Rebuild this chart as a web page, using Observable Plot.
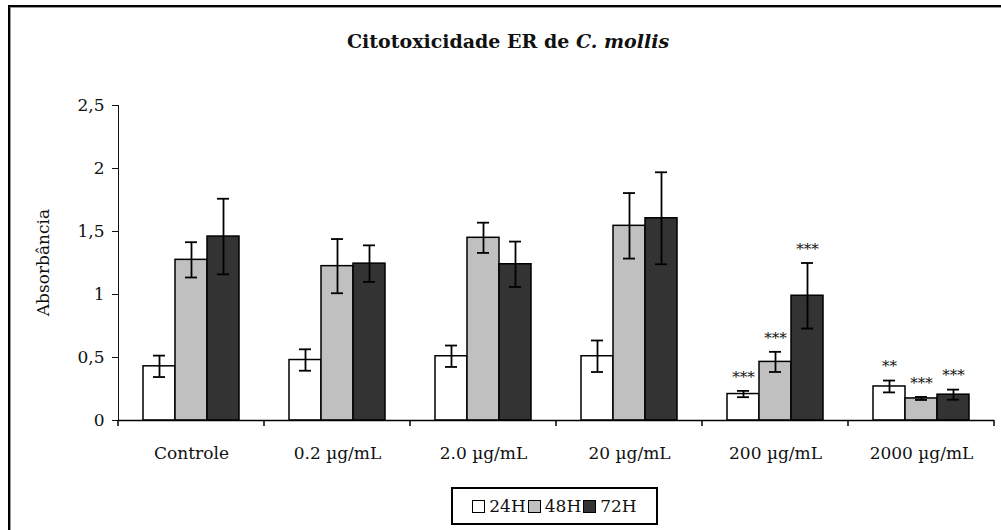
<!DOCTYPE html>
<html><head><meta charset="utf-8">
<script src="https://cdn.jsdelivr.net/npm/d3@7"></script>
<script src="https://cdn.jsdelivr.net/npm/@observablehq/plot@0.6"></script>
<style>
html,body{margin:0;padding:0;background:#fff;overflow:hidden;width:1001px;height:530px;}
#frame{position:absolute;left:8px;top:5px;width:1100px;height:600px;border-left:2px solid #000;border-top:2px solid #000;box-shadow:inset 1px 1px 0 #999;}
#title{position:absolute;left:158px;width:700px;top:30px;text-align:center;font:bold 19px "DejaVu Serif";color:#111;}
#chart{position:absolute;left:0;top:70px;}
#legend{position:absolute;left:451px;top:487px;width:203px;height:34px;border:2px solid #000;display:flex;align-items:center;justify-content:center;font:17px "DejaVu Serif";color:#111;}
#legend .sw{display:inline-block;width:11px;height:11px;border:1.5px solid #000;margin-right:4px;}
#legend .it{display:flex;align-items:center;margin:0 1px;}
</style></head><body>
<div id="frame"></div>
<div id="title">Citotoxicidade ER de <i>C. mollis</i></div>
<div id="chart"></div>
<div id="legend"></div>
<script>
const categories = ["Controle", "0.2 µg/mL", "2.0 µg/mL", "20 µg/mL", "200 µg/mL", "2000 µg/mL"];
const series = ["24H", "48H", "72H"];
const mean24 = [0.43, 0.48, 0.51, 0.51, 0.21, 0.27];
const mean48 = [1.275, 1.225, 1.45, 1.545, 0.465, 0.175];
const mean72 = [1.46, 1.245, 1.24, 1.605, 0.99, 0.205];
const err24 = [0.085, 0.085, 0.085, 0.125, 0.025, 0.047];
const err48 = [0.14, 0.215, 0.12, 0.26, 0.08, 0.012];
const err72 = [0.30, 0.145, 0.18, 0.365, 0.26, 0.04];
const sig24 = ["", "", "", "", "***", "**"];
const sig48 = ["", "", "", "", "***", "***"];
const sig72 = ["", "", "", "", "***", "***"];
const yTicks = [0, 0.5, 1, 1.5, 2, 2.5];
const yLabel = "Absorbância";
const fills = ["#ffffff", "#c0c0c0", "#333333"];

const means = [mean24, mean48, mean72], errs = [err24, err48, err72], sigs = [sig24, sig48, sig72];
const rows = [];
categories.forEach((c, i) => series.forEach((s, j) => rows.push({
  category: c, series: s, mean: means[j][i], err: errs[j][i], sig: sigs[j][i]
})));
const lo = d => d.mean - d.err, hi = d => d.mean + d.err;

const chart = Plot.plot({
  width: 1001, height: 410,
  marginLeft: 118, marginRight: 7, marginTop: 35, marginBottom: 60,
  style: {fontFamily: "DejaVu Serif", fontSize: "17px", color: "#111", background: "transparent"},
  fx: {domain: categories, padding: 0, label: null, axis: "bottom", tickSize: 0, tickPadding: 26},
  x: {domain: series, paddingInner: 0, paddingOuter: 0.73, axis: null},
  y: {domain: [0, 2.5], ticks: yTicks, tickFormat: d => String(d).replace(".", ","), tickSize: 6, tickPadding: 8,
      line: true, label: null},
  color: {domain: series, range: fills},
  marks: [
    Plot.barY(rows, {fx: "category", x: "series", y: "mean", fill: "series", stroke: "#000", strokeWidth: 1.5}),
    Plot.ruleX(rows, {fx: "category", x: "series", y1: lo, y2: hi, stroke: "#000", strokeWidth: 1.8}),
    Plot.tickY(rows, {fx: "category", x: "series", y: lo, insetLeft: 10, insetRight: 10, stroke: "#000", strokeWidth: 1.8}),
    Plot.tickY(rows, {fx: "category", x: "series", y: hi, insetLeft: 10, insetRight: 10, stroke: "#000", strokeWidth: 1.8}),
    Plot.text(rows.filter(d => d.sig), {fx: "category", x: "series", y: hi, text: "sig", dy: -14, fontSize: 15, fill: "#111"}),
    Plot.ruleY([0], {stroke: "#000", strokeWidth: 1.5})
  ]
});
document.getElementById("chart").appendChild(chart);

// group-boundary ticks on the category axis, from the fx scale
const fxS = chart.scale("fx"), yS = chart.scale("y");
const y0 = yS.apply(0);
const bounds = categories.map(c => fxS.apply(c));
bounds.push(fxS.apply(categories[categories.length - 1]) + fxS.bandwidth);
const svg = d3.select(chart);
svg.append("g").selectAll("line").data(bounds).join("line")
  .attr("x1", d => d).attr("x2", d => d).attr("y1", y0).attr("y2", y0 + 6)
  .attr("stroke", "#000").attr("stroke-width", 1.5);

// y-axis title (no arrow), centred on the y range
const yMid = (yS.apply(0) + yS.apply(2.5)) / 2;
svg.append("text")
  .attr("transform", `translate(${fxS.apply(categories[0]) - 74},${yMid}) rotate(-90)`)
  .attr("text-anchor", "middle").attr("dominant-baseline", "middle")
  .attr("font-family", "DejaVu Serif").attr("font-size", 17).attr("fill", "#111")
  .text(yLabel);

// legend
const leg = d3.select("#legend");
series.forEach((s, i) => {
  const it = leg.append("span").attr("class", "it");
  it.append("span").attr("class", "sw").style("background", fills[i]);
  it.append("span").text(s);
});
</script>
</body></html>
